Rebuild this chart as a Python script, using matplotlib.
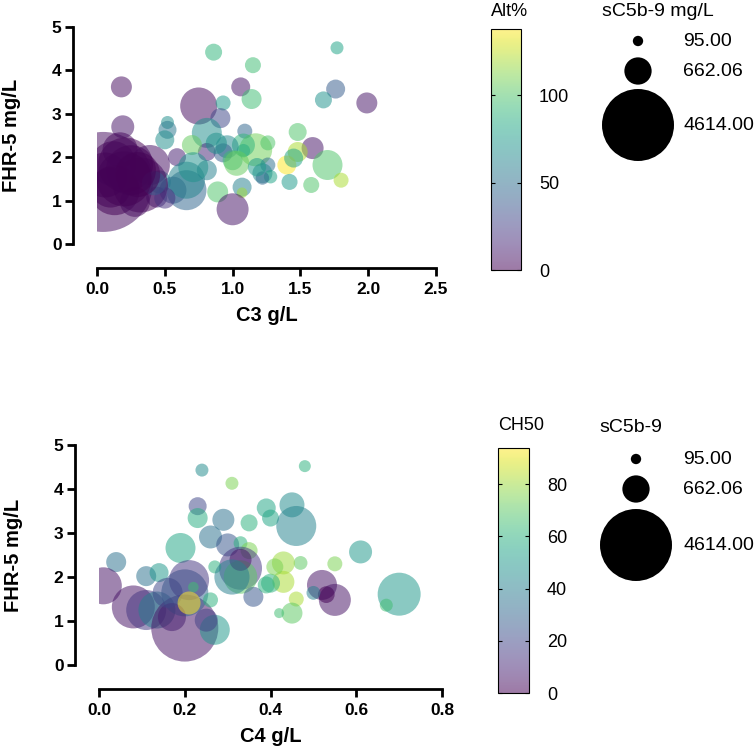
import numpy as np
import matplotlib
matplotlib.use("Agg")
import matplotlib.pyplot as plt
from matplotlib.ticker import FormatStrFormatter

plt.rcParams["font.family"] = ["Liberation Sans", "DejaVu Sans"]

# ---- top panel: C3 vs FHR-5, size = sC5b-9, colour = Alt% ----
c3 = [0.18, 0.19, 0.75, 0.86, 1.15, 1.06, 1.14, 0.93, 0.91, 0.81,
      1.09, 1.48, 1.59, 1.48, 1.70, 1.40, 1.45, 1.42, 1.58, 1.17,
      1.26, 1.26, 1.22, 1.28, 1.22, 1.08, 1.08, 0.96, 0.81, 0.93,
      1.00, 1.03, 0.81, 0.89, 1.07, 1.07, 1.00, 1.77, 1.76, 1.67,
      1.99, 1.80, 0.52, 0.52, 0.50, 0.70, 0.59, 0.46, 0.44, 0.56,
      0.66, 0.66, 0.71, 0.88, 1.18, 0.045, 0.21, 0.32, 0.13, 0.39,
      0.17, 0.28, 0.06, 0.50, 0.42, 0.20, 0.25, 0.12, 0.30, 0.10]
fhr5_top = [3.62, 2.70, 3.18, 4.42, 4.12, 3.62, 3.34, 3.25, 2.90, 2.56,
            2.60, 2.58, 2.21, 2.12, 1.82, 1.82, 1.98, 1.43, 1.36, 2.17,
            2.33, 1.82, 1.63, 1.55, 1.52, 2.28, 2.15, 2.24, 2.12, 2.10,
            1.93, 1.86, 1.70, 1.20, 1.31, 1.18, 0.80, 4.52, 3.57, 3.32,
            3.25, 1.47, 2.80, 2.63, 2.40, 2.28, 2.00, 1.43, 1.08, 1.24,
            1.24, 1.47, 1.77, 2.32, 1.77, 1.43, 1.82, 1.36, 1.24, 1.82,
            2.17, 0.97, 1.59, 1.06, 1.40, 1.50, 1.70, 1.85, 1.60, 1.30]
sc5b9_top = [392, 470, 1220, 257, 228, 321, 356, 200, 356, 800,
             200, 288, 431, 356, 800, 321, 321, 228, 228, 970,
             200, 200, 356, 160, 160, 470, 160, 470, 288, 321,
             356, 560, 356, 392, 321, 100, 911, 150, 321, 257,
             392, 200, 150, 288, 321, 356, 288, 470, 392, 650,
             1424, 1220, 800, 400, 300, 8900, 2692, 2692, 2225, 1424,
             1090, 800, 1802, 400, 513, 2692, 2225, 1802, 1802, 1424]
alt_pct = [5, 8, 5, 90, 95, 8, 95, 75, 30, 68,
           45, 100, 8, 120, 100, 137.7, 80, 75, 100, 108,
           100, 50, 65, 80, 45, 90, 85, 65, 15, 40,
           95, 105, 60, 100, 60, 118, 8, 80, 40, 70,
           8, 120, 68, 55, 68, 105, 12, 65, 15, 35,
           45, 62, 70, 70, 75, 5, 0, 2, 0, 6,
           3, 4, 1, 20, 40, 0, 1, 2, 0, 1]

# ---- bottom panel: C4 vs FHR-5, size = sC5b-9, colour = CH50 ----
c4 = [0.24, 0.31, 0.48, 0.23, 0.23, 0.29, 0.35, 0.39, 0.40, 0.45,
      0.46, 0.61, 0.70, 0.67, 0.55, 0.47, 0.43, 0.43, 0.46, 0.45,
      0.42, 0.52, 0.55, 0.53, 0.50, 0.40, 0.19, 0.26, 0.30, 0.33,
      0.35, 0.04, 0.11, 0.14, 0.01, 0.08, 0.11, 0.135, 0.20, 0.20,
      0.21, 0.22, 0.26, 0.27, 0.25, 0.33, 0.33, 0.33, 0.27, 0.36,
      0.31, 0.17, 0.16, 0.39, 0.41, 0.21]
fhr5_bot = [4.43, 4.13, 4.52, 3.61, 3.34, 3.30, 3.23, 3.57, 3.34, 3.64,
            3.16, 2.57, 1.61, 1.36, 2.30, 2.32, 2.32, 1.89, 1.50, 1.18,
            1.18, 1.82, 1.48, 1.60, 1.64, 1.86, 2.66, 2.91, 2.73, 2.77,
            2.60, 2.34, 2.02, 2.10, 1.80, 1.32, 1.25, 1.25, 0.84, 1.64,
            1.93, 1.77, 1.48, 0.80, 1.02, 2.20, 2.00, 2.39, 2.23, 1.55,
            2.00, 1.09, 1.64, 1.82, 2.23, 1.41]
sc5b9_bot = [150, 150, 128, 288, 356, 431, 257, 321, 257, 556,
             1424, 470, 1645, 150, 200, 170, 470, 431, 200, 392,
             89, 800, 911, 250, 170, 321, 800, 470, 470, 170,
             257, 356, 356, 321, 1220, 1645, 1424, 1220, 4000, 1966,
             1424, 100, 200, 800, 470, 1645, 1000, 431, 150, 356,
             1100, 700, 800, 257, 257, 470]
ch50 = [45, 75, 60, 20, 58, 35, 60, 55, 55, 45,
        42, 50, 50, 65, 75, 70, 80, 82, 82, 70,
        65, 5, 5, 0, 40, 60, 55, 35, 25, 60,
        75, 35, 35, 50, 5, 5, 15, 40, 5, 30,
        15, 65, 60, 50, 18, 15, 70, 5, 60, 25,
        40, 8, 20, 60, 75, 93.8]

legend_vals = [95.00, 662.06, 4614.00]

SIZE_SCALE = 0.5824   # points^2 per mg/L
ALPHA = 0.52
TXT = 13
LEG_TXT = 14

fig = plt.figure(figsize=(7.56, 7.54), dpi=100)


def style_axes(ax, xmax, xstep):
    ax.set_xlim(0, xmax)
    ax.set_ylim(0, 5)
    ax.set_xticks(np.arange(0, xmax + 1e-9, xstep))
    ax.set_yticks(range(6))
    ax.xaxis.set_major_formatter(FormatStrFormatter("%.1f"))
    for s in ["top", "right"]:
        ax.spines[s].set_visible(False)
    for s in ["left", "bottom"]:
        ax.spines[s].set_position(("outward", 17.5))
        ax.spines[s].set_linewidth(2)
    ax.tick_params(width=2, length=6, labelsize=12.5, pad=2)
    ax.tick_params(axis="x", pad=4)
    for lab in ax.get_xticklabels() + ax.get_yticklabels():
        lab.set_fontweight("bold")
    ax.set_ylabel("FHR-5 mg/L", fontsize=14.5, fontweight="bold", labelpad=22)


def add_cbar(sc, rect, ticks, title, title_xy):
    cax = fig.add_axes(rect)
    cb = fig.colorbar(sc, cax=cax, ticks=ticks)
    cb.outline.set_linewidth(0.8)
    cax.tick_params(direction="in", left=True, right=True, length=3,
                    width=0.8, labelsize=TXT, pad=13)
    fig.text(title_xy[0], title_xy[1], title, fontsize=TXT, va="center", ha="left")
    return cb


# top panel
ax1 = fig.add_axes([0.1283, 0.6764, 0.4484, 0.2878])
sc1 = ax1.scatter(c3, fhr5_top, s=np.array(sc5b9_top) * SIZE_SCALE, c=alt_pct,
                  cmap="viridis", alpha=ALPHA, linewidths=0)
style_axes(ax1, 2.5, 0.5)
ax1.set_xlabel("C3 g/L", fontsize=14.5, fontweight="bold", labelpad=6)
add_cbar(sc1, [0.6495, 0.6419, 0.0397, 0.3196], [0, 50, 100], "Alt%",
         (0.6495, 1 - 11 / 754))

# bottom panel
ax2 = fig.add_axes([0.1310, 0.1180, 0.4537, 0.2918])
sc2 = ax2.scatter(c4, fhr5_bot, s=np.array(sc5b9_bot) * SIZE_SCALE, c=ch50,
                  cmap="viridis", alpha=ALPHA, linewidths=0)
style_axes(ax2, 0.8, 0.2)
ax2.set_xlabel("C4 g/L", fontsize=14.5, fontweight="bold", labelpad=6)
add_cbar(sc2, [0.6587, 0.0809, 0.0410, 0.3250], [0, 20, 40, 60, 80], "CH50",
         (0.6587, 1 - 425 / 754))

# size legends drawn on an overlay in pixel coordinates
lax = fig.add_axes([0, 0, 1, 1])
lax.set_xlim(0, 756)
lax.set_ylim(754, 0)
lax.axis("off")


def size_legend(title, tx, ty, cx, cys, lx):
    lax.text(tx, ty, title, fontsize=LEG_TXT, va="center", ha="left")
    lax.scatter([cx] * len(cys), cys, s=np.array(legend_vals) * SIZE_SCALE,
                color="black", linewidths=0, clip_on=False)
    for v, cy in zip(legend_vals, cys):
        lax.text(lx, cy, f"{v:.2f}", fontsize=LEG_TXT, va="center", ha="left")


size_legend("sC5b-9 mg/L", 602, 11, 638, [41, 71, 125], 683)
size_legend("sC5b-9", 599, 427, 636, [459, 489, 545], 683)

fig.savefig("out.png", dpi=100)
